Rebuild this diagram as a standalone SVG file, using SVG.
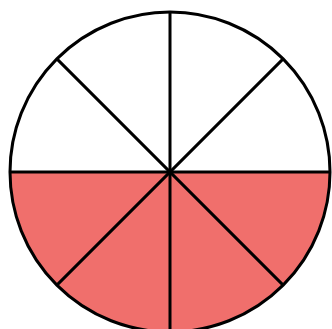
<svg xmlns="http://www.w3.org/2000/svg" width="332" height="329" viewBox="0 0 332 329">
<style>
.sec{fill:#F06F6C;stroke:none}
.ln{stroke:#000;stroke-width:3;fill:none;stroke-linecap:butt}
</style>
<rect width="332" height="329" fill="#fff"/>
<g id="fill">
<path class="sec" d="M10,172 A160,160 0 0 0 330,172 Z"/>
</g>
<g id="connectors">
<line class="ln" x1="170" y1="12" x2="170" y2="332"/>
<line class="ln" x1="10" y1="172" x2="330" y2="172"/>
<line class="ln" x1="56.9" y1="58.9" x2="283.1" y2="285.1"/>
<line class="ln" x1="283.1" y1="58.9" x2="56.9" y2="285.1"/>
</g>
<g id="circle">
<circle class="ln" cx="170" cy="172" r="160"/>
</g>
</svg>
